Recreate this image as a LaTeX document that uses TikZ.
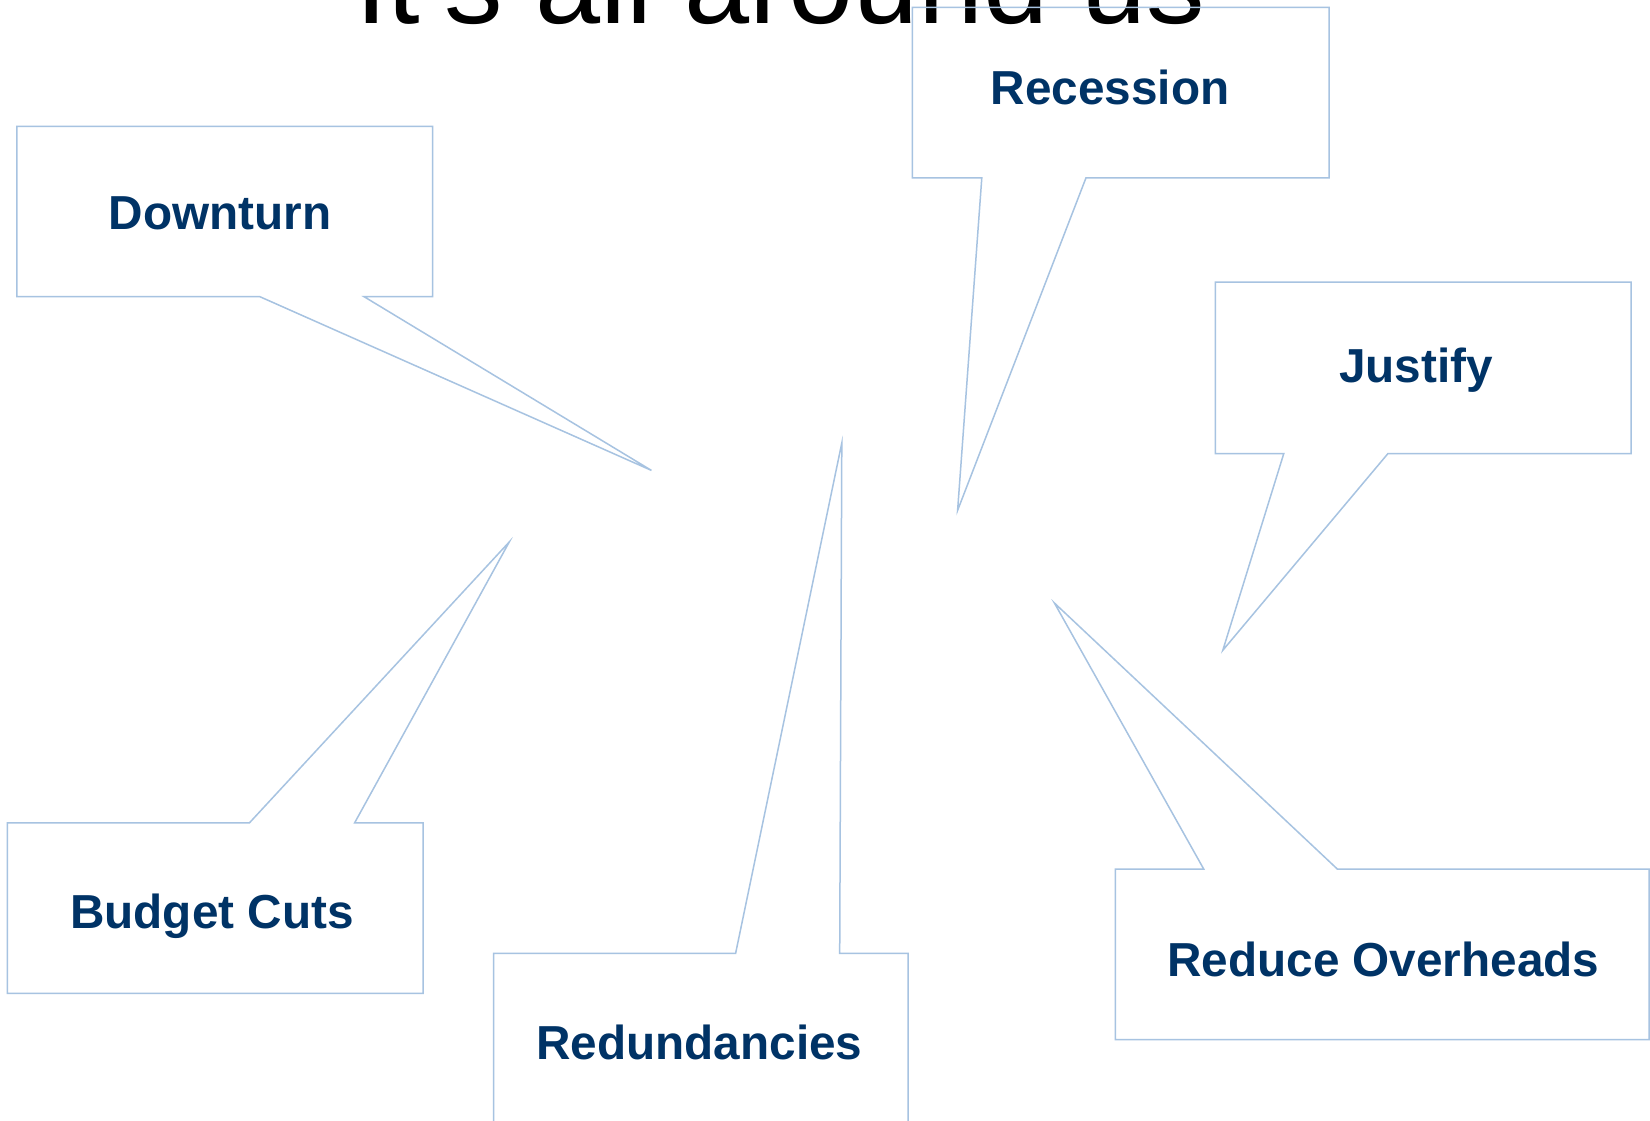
\documentclass[tikz,border=0pt]{standalone}
\usepackage{fontspec}
\setmainfont{Liberation Sans}
\definecolor{calloutline}{RGB}{167,195,225}
\definecolor{labelblue}{RGB}{0,51,102}
\begin{document}
\begin{tikzpicture}[x=1pt,y=-1pt,
  callout/.style={draw=calloutline,line width=1.5pt,line join=miter},
  label/.style={anchor=base,text=labelblue,font=\fontsize{47.7}{57}\selectfont\bfseries,inner sep=0pt},
  titletext/.style={anchor=base,text=black,font=\fontsize{117}{140}\selectfont,inner sep=0pt}]
\useasboundingbox (0,0) rectangle (1650,1121);
\fill[white] (0,0) rectangle (1650,1121);
% title (cut off at top edge)
\node[titletext] (title) at (780.3,24) {It's all around us};
% Downturn
\draw[callout] (16.8,126.3) -- (432.5,126.3) -- (432.5,296.7) -- (364.1,296.7)
  -- (651.4,470.4) -- (259.9,296.7) -- (16.8,296.7) -- cycle;
\node[label] (downturn) at (219.9,229.4) {Downturn};
% Recession
\draw[callout] (912.3,7.4) -- (1329.1,7.4) -- (1329.1,177.8) -- (1086.0,177.8)
  -- (957.6,510.4) -- (981.8,177.8) -- (912.3,177.8) -- cycle;
\node[label] (recession) at (1110.2,104.5) {Recession};
% Justify
\draw[callout] (1215.4,282.0) -- (1631.1,282.0) -- (1631.1,453.5) -- (1388.0,453.5)
  -- (1222.8,650.3) -- (1283.8,453.5) -- (1215.4,453.5) -- cycle;
\node[label] (justify) at (1415.9,382.0) {Justify};
% Budget Cuts
\draw[callout] (7.4,822.9) -- (249.4,822.9) -- (509.3,541.9) -- (354.6,822.9)
  -- (423.0,822.9) -- (423.0,993.4) -- (7.4,993.4) -- cycle;
\node[label] (budget) at (212.0,928.5) {Budget Cuts};
% Redundancies
\draw[callout] (493.5,953.4) -- (735.6,953.4) -- (841.8,443.0) -- (839.7,953.4)
  -- (908.1,953.4) -- (908.1,1124.0) -- (493.5,1124.0) -- cycle;
\node[label] (redund) at (699.3,1059.7) {Redundancies};
% Reduce Overheads
\draw[callout] (1115.4,869.2) -- (1203.8,869.2) -- (1054.4,603.0) -- (1337.5,869.2)
  -- (1649.0,869.2) -- (1649.0,1039.7) -- (1115.4,1039.7) -- cycle;
\node[label] (reduce) at (1383.3,976.0) {Reduce Overheads};
\end{tikzpicture}
\end{document}
